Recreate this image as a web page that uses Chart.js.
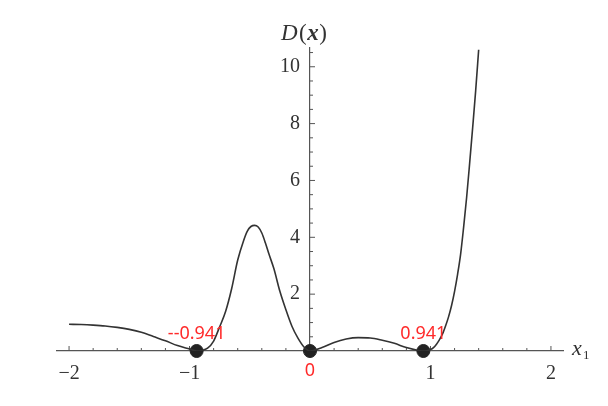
<!DOCTYPE html>
<html>
<head>
<meta charset="utf-8">
<script src="https://cdn.jsdelivr.net/npm/chart.js@4.4.1/dist/chart.umd.min.js"></script>
<style>
  html, body { margin: 0; padding: 0; background: #fff; }
  #wrap { width: 608px; height: 406px; }
</style>
</head>
<body>
<div id="wrap"><canvas id="chart"></canvas></div>
<script>
// curve D(x)
const curveX = [-2.0, -1.9, -1.8, -1.7, -1.6, -1.5, -1.4, -1.3, -1.2, -1.1, -1.0, -0.941,
  -0.9, -0.85, -0.8, -0.75, -0.7, -0.65, -0.6, -0.55, -0.52, -0.49, -0.46, -0.43, -0.4, -0.37,
  -0.34, -0.3, -0.25, -0.2, -0.15, -0.1, -0.05, 0,
  0.1, 0.2, 0.3, 0.4, 0.5, 0.6, 0.7, 0.8, 0.9, 0.941,
  0.97, 1.0, 1.025, 1.05, 1.075, 1.1, 1.125, 1.15, 1.175, 1.2, 1.225, 1.25, 1.275, 1.3,
  1.325, 1.35, 1.375, 1.4];
const curveY = [0.94, 0.93, 0.91, 0.88, 0.83, 0.76, 0.66, 0.51, 0.36, 0.19, 0.07, 0,
  0.02, 0.1, 0.35, 0.85, 1.4, 2.2, 3.2, 3.9, 4.22, 4.38, 4.42, 4.36, 4.15, 3.8,
  3.4, 2.9, 2.1, 1.45, 0.87, 0.45, 0.14, 0,
  0.12, 0.3, 0.42, 0.47, 0.46, 0.38, 0.27, 0.12, 0.02, 0,
  0.01, 0.05, 0.12, 0.24, 0.4, 0.6, 0.88, 1.2, 1.6, 2.1, 2.7, 3.4, 4.35, 5.4,
  6.6, 7.85, 9.15, 10.6];

// marked zeros
const zeroX = [-0.941, 0, 0.941];
const zeroLabels = ["--0.941", "0", "0.941"];

// axes
const xTicks = [-2, -1, 1, 2];
const yTicks = [2, 4, 6, 8, 10];
const xMinorStep = 0.2;
const yMinorStep = 0.5;
const xRange = [-2.1, 2.1];
const yRange = [0, 10.66];

const fmtTick = (v) => (v < 0 ? "\u2212" + Math.abs(v) : String(v));

const axisDecor = {
  id: "axisDecor",
  beforeDatasetsDraw(chart) {
    const { ctx, scales: { x, y } } = chart;
    const x0 = x.getPixelForValue(0);
    const y0 = y.getPixelForValue(0);
    ctx.save();
    ctx.strokeStyle = "#555";
    ctx.lineWidth = 1;
    // x ticks point up from the axis
    for (let i = Math.ceil(xRange[0] / xMinorStep); i <= Math.floor(xRange[1] / xMinorStep); i++) {
      const v = i * xMinorStep;
      if (Math.abs(v) < 1e-9) continue;
      const major = Math.abs(v - Math.round(v)) < 1e-9;
      const px = x.getPixelForValue(v);
      ctx.beginPath();
      ctx.moveTo(px, y0);
      ctx.lineTo(px, y0 - (major ? 5 : 3));
      ctx.stroke();
    }
    // y ticks point right from the axis
    for (let i = 1; i * yMinorStep <= yRange[1]; i++) {
      const v = i * yMinorStep;
      const major = v % 2 === 0;
      const py = y.getPixelForValue(v);
      ctx.beginPath();
      ctx.moveTo(x0, py);
      ctx.lineTo(x0 + (major ? 5 : 3), py);
      ctx.stroke();
    }
    ctx.restore();
  },
  afterDraw(chart) {
    const { ctx, scales: { x, y }, chartArea } = chart;
    const x0 = x.getPixelForValue(0);
    const y0 = y.getPixelForValue(0);
    ctx.save();
    ctx.fillStyle = "#333";
    ctx.textBaseline = "alphabetic";
    ctx.textAlign = "left";
    // D(x) title
    let cx = x0 - 29;
    const by = chartArea.top - 8;
    const parts = [
      ["italic 23px 'Liberation Serif'", "D"],
      ["23px 'Liberation Serif'", "("],
      ["italic bold 23px 'Liberation Serif'", "x"],
      ["23px 'Liberation Serif'", ")"],
    ];
    for (const [f, t] of parts) {
      ctx.font = f;
      ctx.fillText(t, cx, by);
      cx += ctx.measureText(t).width + (t === "D" ? 1.5 : 0.5);
    }
    // x1 label
    ctx.font = "italic 22px 'Liberation Serif'";
    ctx.fillText("x", chartArea.right + 9, y0 + 4);
    ctx.font = "13px 'Liberation Serif'";
    ctx.fillText("1", chartArea.right + 20, y0 + 8);
    // red zero labels
    ctx.fillStyle = "#ff2a2a";
    ctx.font = "18px 'Noto Sans'";
    ctx.textAlign = "center";
    ctx.textBaseline = "middle";
    zeroX.forEach((v, i) => {
      const px = x.getPixelForValue(v);
      const off = v === 0 ? 20 : -17;
      ctx.fillText(zeroLabels[i], px, y0 + off);
    });
    ctx.restore();
  },
};

new Chart(document.getElementById("chart"), {
  type: "line",
  data: {
    datasets: [
      {
        data: curveX.map((v, i) => ({ x: v, y: curveY[i] })),
        borderColor: "#333",
        borderWidth: 1.6,
        pointRadius: 0,
        cubicInterpolationMode: "monotone",
        fill: false,
      },
      {
        data: zeroX.map((v) => ({ x: v, y: 0 })),
        showLine: false,
        pointRadius: 6.5,
        pointBackgroundColor: "#222",
        pointBorderColor: "#222",
        clip: false,
      },
    ],
  },
  options: {
    responsive: true,
    maintainAspectRatio: false,
    animation: false,
    layout: { padding: { left: 57, right: 45, top: 48, bottom: 9 } },
    plugins: { legend: { display: false }, tooltip: { enabled: false } },
    scales: {
      x: {
        type: "linear",
        min: xRange[0],
        max: xRange[1],
        afterBuildTicks: (s) => { s.ticks = xTicks.map((v) => ({ value: v })); },
        ticks: {
          callback: fmtTick,
          color: "#333",
          padding: 11,
          maxRotation: 0,
          font: { family: "'Liberation Serif'", size: 20 },
        },
        grid: { display: false, drawTicks: false },
        border: { color: "#555", width: 1.2 },
      },
      y: {
        type: "linear",
        position: { x: 0 },
        min: yRange[0],
        max: yRange[1],
        afterBuildTicks: (s) => { s.ticks = yTicks.map((v) => ({ value: v })); },
        ticks: {
          // centre-positioned axes ignore padding, so pad the label itself
          callback: (v) => fmtTick(v) + "\u2002",
          color: "#333",
          font: { family: "'Liberation Serif'", size: 20 },
        },
        grid: { display: false, drawTicks: false },
        border: { color: "#555", width: 1.2 },
      },
    },
  },
  plugins: [axisDecor],
});
</script>
</body>
</html>
